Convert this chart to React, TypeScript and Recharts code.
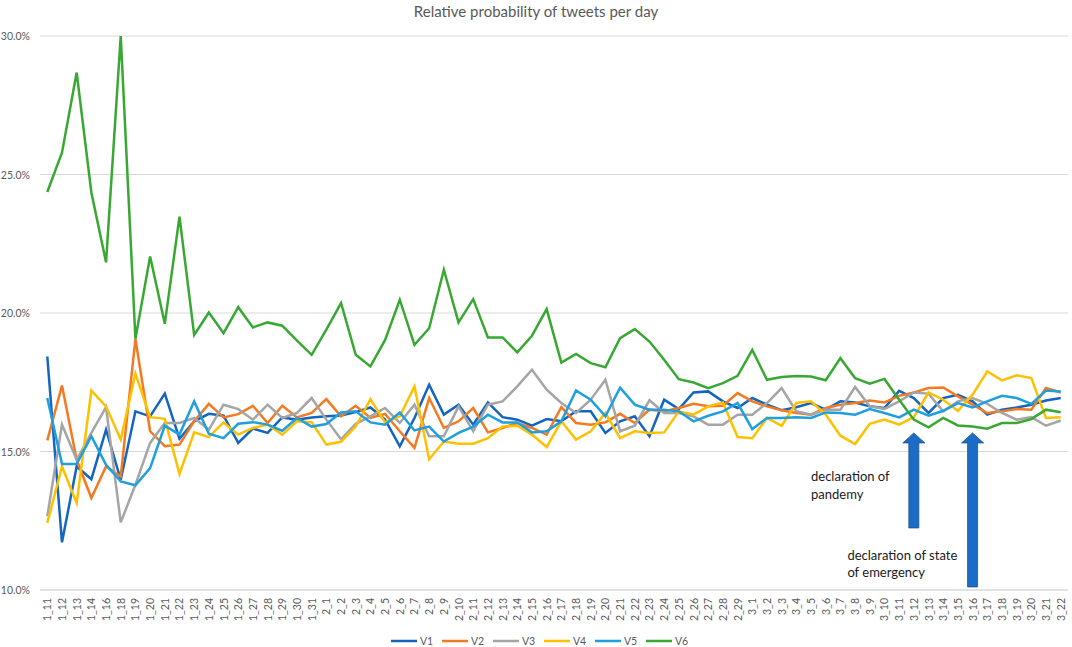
import React from "react"
import { LineChart, Line, XAxis, YAxis, CartesianGrid, Legend, ReferenceLine, ReferenceDot } from "recharts"

const days = [
  "1_11", "1_12", "1_13", "1_14", "1_16", "1_18", "1_19", "1_20", "1_21", "1_22",
  "1_23", "1_24", "1_25", "1_26", "1_27", "1_28", "1_29", "1_30", "1_31", "2_1",
  "2_2", "2_3", "2_4", "2_5", "2_6", "2_7", "2_8", "2_9", "2_10", "2_11",
  "2_12", "2_13", "2_14", "2_15", "2_16", "2_17", "2_18", "2_19", "2_20", "2_21",
  "2_22", "2_23", "2_24", "2_25", "2_26", "2_27", "2_28", "2_29", "3_1", "3_2",
  "3_3", "3_4", "3_5", "3_6", "3_7", "3_8", "3_9", "3_10", "3_11", "3_12",
  "3_13", "3_14", "3_15", "3_16", "3_17", "3_18", "3_19", "3_20", "3_21", "3_22",
]

const v1 = [
  18.43, 11.72, 14.46, 14.0, 15.79, 13.98, 16.45, 16.27, 17.09, 15.46,
  16.09, 16.36, 16.29, 15.31, 15.83, 15.67, 16.23, 16.15, 16.23, 16.27,
  16.3, 16.42, 16.59, 16.15, 15.19, 16.21, 17.41, 16.33, 16.69, 15.97,
  16.77, 16.24, 16.15, 15.93, 16.17, 16.09, 16.45, 16.45, 15.67, 16.09,
  16.27, 15.55, 16.87, 16.53, 17.13, 17.17, 16.81, 16.57, 16.93, 16.69,
  16.49, 16.6, 16.75, 16.51, 16.81, 16.77, 16.63, 16.57, 17.19, 16.93,
  16.39, 16.93, 17.05, 16.81, 16.33, 16.51, 16.59, 16.69, 16.84, 16.93,
]
const v2 = [
  15.4, 17.38, 14.7, 13.32, 14.46, 14.1, 19.06, 15.73, 15.19, 15.25,
  16.09, 16.72, 16.23, 16.35, 16.65, 16.03, 16.65, 16.23, 16.39, 16.89,
  16.27, 16.65, 16.21, 16.36, 15.73, 15.13, 16.93, 15.85, 16.09, 16.57,
  15.69, 15.85, 16.03, 15.85, 15.61, 16.6, 16.03, 15.97, 16.05, 16.36,
  16.03, 16.51, 16.45, 16.57, 16.72, 16.63, 16.65, 17.11, 16.81, 16.63,
  16.49, 16.39, 16.33, 16.57, 16.69, 16.75, 16.84, 16.77, 17.01, 17.13,
  17.29, 17.31, 16.99, 16.69, 16.39, 16.45, 16.53, 16.51, 17.29, 17.13,
]
const v3 = [
  12.66, 15.97, 14.7, 15.67, 16.6, 12.44, 13.8, 15.31, 16.03, 16.03,
  16.21, 15.79, 16.69, 16.53, 16.15, 16.69, 16.21, 16.39, 16.93, 16.15,
  15.44, 16.0, 16.27, 16.57, 16.03, 16.69, 15.55, 15.55, 16.63, 15.73,
  16.69, 16.81, 17.35, 17.95, 17.23, 16.75, 16.39, 16.87, 17.59, 15.73,
  15.93, 16.85, 16.39, 16.39, 16.27, 15.97, 15.97, 16.33, 16.33, 16.75,
  17.29, 16.45, 16.33, 16.51, 16.51, 17.33, 16.63, 16.54, 16.81, 17.13,
  17.09, 16.45, 16.81, 16.93, 16.72, 16.39, 16.15, 16.24, 15.93, 16.12,
]
const v4 = [
  12.42, 14.46, 13.14, 17.2, 16.63, 15.43, 17.81, 16.24, 16.18, 14.19,
  15.69, 15.52, 16.05, 15.61, 15.85, 15.97, 15.61, 16.09, 16.06, 15.25,
  15.35, 15.9, 16.89, 16.05, 16.27, 17.35, 14.72, 15.36, 15.28, 15.28,
  15.48, 15.9, 15.93, 15.61, 15.16, 16.09, 15.43, 15.73, 16.39, 15.48,
  15.73, 15.67, 15.69, 16.45, 16.33, 16.63, 16.77, 15.52, 15.48, 16.21,
  15.93, 16.75, 16.81, 16.33, 15.57, 15.27, 16.0, 16.15, 15.97, 16.24,
  17.13, 16.87, 16.47, 17.05, 17.89, 17.57, 17.75, 17.65, 16.21, 16.24,
]
const v5 = [
  16.93, 14.55, 14.55, 15.55, 14.52, 13.92, 13.78, 14.4, 15.93, 15.61,
  16.81, 15.64, 15.48, 16.0, 16.06, 15.97, 15.75, 16.21, 15.9, 15.99,
  16.41, 16.45, 16.05, 15.97, 16.41, 15.76, 15.9, 15.36, 15.67, 15.9,
  16.33, 16.05, 16.05, 15.69, 15.73, 16.09, 17.2, 16.87, 16.27, 17.3,
  16.69, 16.51, 16.51, 16.45, 16.09, 16.29, 16.45, 16.75, 15.81, 16.21,
  16.21, 16.24, 16.21, 16.41, 16.39, 16.33, 16.53, 16.39, 16.23, 16.51,
  16.29, 16.47, 16.75, 16.59, 16.81, 17.01, 16.93, 16.72, 17.2, 17.17,
]
const v6 = [
  24.37, 25.79, 28.68, 24.35, 21.83, 30.0, 19.07, 22.04, 19.61, 23.48,
  19.21, 20.02, 19.27, 20.21, 19.48, 19.66, 19.54, 19.0, 18.49, 19.4,
  20.36, 18.49, 18.07, 19.03, 20.48, 18.85, 19.45, 21.56, 19.66, 20.5,
  19.12, 19.12, 18.58, 19.18, 20.14, 18.21, 18.52, 18.19, 18.04, 19.09,
  19.42, 18.97, 18.31, 17.61, 17.49, 17.29, 17.47, 17.73, 18.67, 17.59,
  17.69, 17.73, 17.71, 17.57, 18.37, 17.65, 17.45, 17.62, 16.87, 16.15,
  15.87, 16.21, 15.94, 15.9, 15.82, 16.03, 16.03, 16.17, 16.51, 16.42,
]

const yTicks = [10, 15, 20, 25, 30]

const seriesNames = ["V1", "V2", "V3", "V4", "V5", "V6"]
const seriesValues = [v1, v2, v3, v4, v5, v6]
const colors = ["#1565c0", "#f47a22", "#a5a5a5", "#ffc000", "#1e9fde", "#38a832"]

const data = days.map((day, i) => {
  const row: Record<string, string | number> = { day }
  seriesNames.forEach((name, s) => {
    row[name] = seriesValues[s][i]
  })
  return row
})

const font = "Lato, 'Open Sans', sans-serif"

const XTick = ({ x, y, payload }: any) => (
  <text
    x={x}
    y={y}
    transform={`rotate(-90, ${x}, ${y})`}
    textAnchor="end"
    dominantBaseline="central"
    fontSize={10.5}
    fill="#595959"
  >
    {payload.value}
  </text>
)

const YTick = ({ x, y, payload }: any) => (
  <text x={x} y={y} textAnchor="end" dominantBaseline="central" fontSize={10.5} fill="#595959">
    {payload.value.toFixed(1)}%
  </text>
)

// block arrow pointing up, drawn between the two ends of a reference segment
const Arrow = ({ x1, y1, y2 }: any) => {
  const top = Math.min(y1, y2)
  const bottom = Math.max(y1, y2)
  const head = top + 10
  const pts = [
    [x1, top], [x1 + 11, head], [x1 + 5, head], [x1 + 5, bottom],
    [x1 - 5, bottom], [x1 - 5, head], [x1 - 11, head],
  ].map((p) => p.join(",")).join(" ")
  return <polygon points={pts} fill="#1b6cc7" stroke="#24508c" strokeWidth={0.8} />
}

const note = (lines: string[], dx: number) => ({ cx, cy }: any) => (
  <text x={cx + dx} y={cy} fontSize={13} fill="#1a1a1a" fontFamily={font}>
    {lines.map((l, i) => (
      <tspan key={l} x={cx + dx} dy={i === 0 ? 0 : 17.5}>{l}</tspan>
    ))}
  </text>
)

const LegendRow = ({ payload }: any) => (
  <div style={{ display: "flex", justifyContent: "center", paddingLeft: 20, fontFamily: font }}>
    {(payload || []).map((item: any) => (
      <div key={item.value} style={{ display: "flex", alignItems: "center", width: 51, height: 12 }}>
        <svg width={26} height={12} style={{ marginRight: 3 }}>
          <line x1={0} y1={6} x2={26} y2={6} stroke={item.color} strokeWidth={2.5} />
        </svg>
        <span style={{ fontSize: 10.5, color: "#595959" }}>{item.value}</span>
      </div>
    ))}
  </div>
)

export default function App() {
  return (
    <div style={{ position: "absolute", left: 0, top: 0, width: 1072, height: 647, background: "#fff", fontFamily: font }}>
      <div
        style={{
          position: "absolute", top: 2, left: 0, width: 1072, textAlign: "center",
          fontSize: 15, color: "#595959", fontFamily: font,
        }}
      >
        Relative probability of tweets per day
      </div>
      <LineChart width={1072} height={647} data={data} margin={{ top: 36, right: 4, left: 0, bottom: 0 }} style={{ fontFamily: font }}>
        <CartesianGrid vertical={false} stroke="#d9d9d9" />
        <XAxis
          dataKey="day"
          interval={0}
          padding={{ left: 7.3, right: 7.3 }}
          tick={<XTick />}
          tickLine={false}
          axisLine={{ stroke: "#d9d9d9" }}
          height={45}
        />
        <YAxis domain={[10, 30]} ticks={yTicks} tick={<YTick />} tickMargin={4} axisLine={false} tickLine={false} width={40} />
        <Legend verticalAlign="bottom" content={<LegendRow />} wrapperStyle={{ height: 12 }} />
        {seriesNames.map((name, s) => (
          <Line
            key={name}
            type="linear"
            dataKey={name}
            stroke={colors[s]}
            strokeWidth={2.5}
            dot={false}
            isAnimationActive={false}
          />
        ))}
        <ReferenceLine segment={[{ x: "3_12", y: 12.24 }, { x: "3_12", y: 15.67 }]} shape={<Arrow />} />
        <ReferenceLine segment={[{ x: "3_16", y: 10.11 }, { x: "3_16", y: 15.67 }]} shape={<Arrow />} />
        <ReferenceDot x="3_5" y={13.92} r={0} shape={note(["declaration of", "pandemy"], 0)} />
        <ReferenceDot x="3_7" y={11.1} r={0} shape={note(["declaration of state", "of emergency"], 7)} />
      </LineChart>
    </div>
  )
}
